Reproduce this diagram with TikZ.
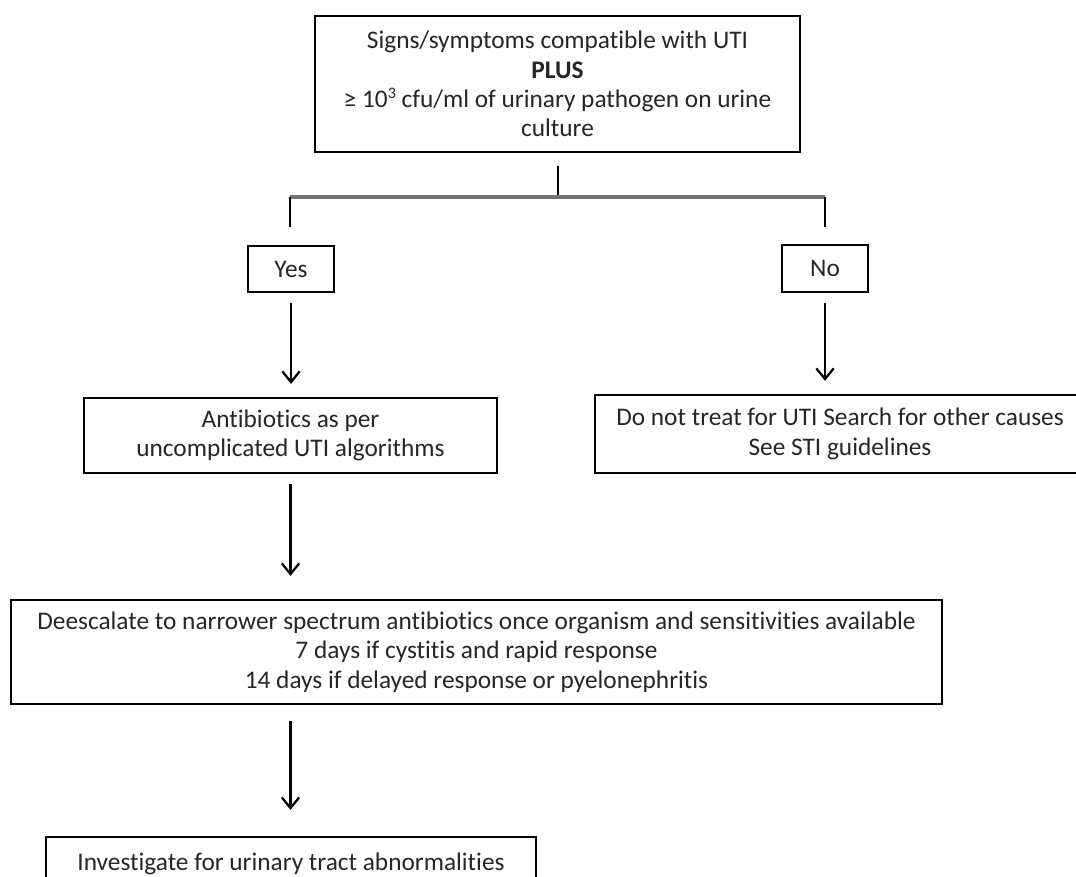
\documentclass[tikz,border=0pt]{standalone}
\usepackage{fontspec}
\setmainfont{Carlito}[Ligatures=NoCommon]
\usetikzlibrary{arrows.meta}
\begin{document}
\begin{tikzpicture}[x=0.75pt,y=-0.75pt,
  box/.style={draw=black, line width=1.7pt, fill=none, inner sep=0pt, align=center,
    font=\fontsize{19}{22}\selectfont, text=black!85},
  arr/.style={draw=black, line width=1.7pt, -{Straight Barb[length=8pt,width=13pt,line width=1.7pt]}},
  conn/.style={draw=black, line width=1.7pt},
  bar/.style={draw=black!55, line width=2.6pt}]
\useasboundingbox (0,0) rectangle (1076,877);
\fill[white] (0,0) rectangle (1076,877);

\node[box, minimum width=363.75pt, minimum height=102pt] (top) at (557.5,84)
  {Signs/symptoms compatible with UTI\\ \textbf{PLUS}\\ ≥ 10\raisebox{0.75ex}{\fontsize{12}{12}\selectfont 3} cfu/ml of urinary pathogen on urine\\ culture};

\node[box, minimum width=64.5pt, minimum height=34.5pt] (yes) at (291,269) {Yes};
\node[box, minimum width=64.5pt, minimum height=35.25pt] (no) at (825,268.5) {No};

\node[box, minimum width=309.75pt, minimum height=56.25pt] (ab) at (290.5,435.5)
  {Antibiotics as per\\ uncomplicated UTI algorithms};
\node[box, minimum width=367.5pt, minimum height=58.5pt] (nt) at (840,434)
  {Do not treat for UTI Search for other causes\\ See STI guidelines};

\node[box, minimum width=698.25pt, minimum height=78pt] (de) at (476.5,652)
  {Deescalate to narrower spectrum antibiotics once organism and sensitivities available\\
   7 days if cystitis and rapid response\\ 14 days if delayed response or pyelonephritis};

\node[box, minimum width=367.5pt, minimum height=40.5pt] (inv) at (291,864)
  {Investigate for urinary tract abnormalities};

\coordinate (bm) at (558,197);
\coordinate (bl) at (290,197);
\coordinate (br) at (825,197);
\coordinate (dl) at (290,227);
\coordinate (dr) at (825,227);

\draw[conn, shorten <=9.75pt] (top.south -| bm) -- (bm);
\draw[bar] (bl) -- (br);
\draw[conn] (bl) -- (dl);
\draw[conn] (br) -- (dr);

\draw[arr, shorten <=7.5pt, shorten >=9.75pt] (yes.south) -- (yes.south |- ab.north);
\draw[arr, shorten <=7.5pt, shorten >=9.75pt] (no.south) -- (no.south |- nt.north);
\draw[arr, shorten <=7.5pt, shorten >=17.25pt] (ab.south) -- (ab.south |- de.north);
\draw[arr, shorten <=12pt, shorten >=19.5pt] (ab.south |- de.south) -- (ab.south |- inv.north);
\end{tikzpicture}
\end{document}
